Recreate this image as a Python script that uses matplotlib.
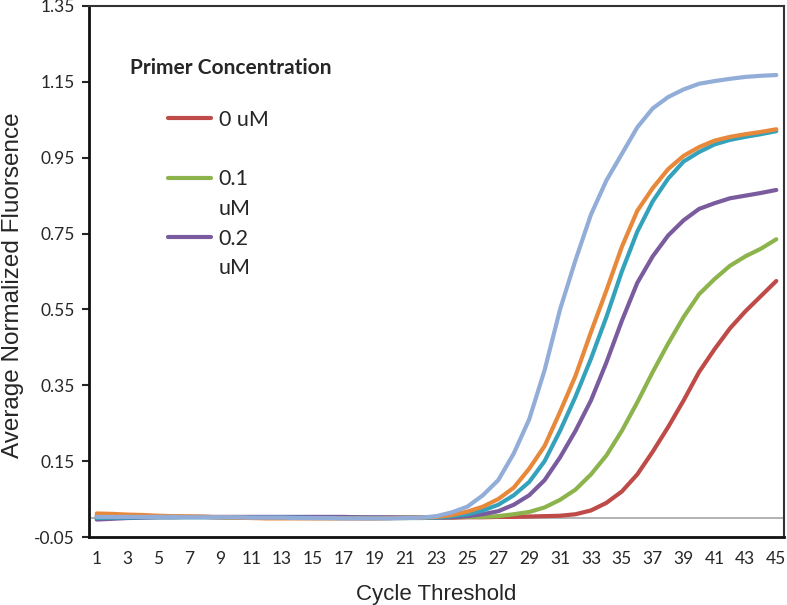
import matplotlib
matplotlib.use("Agg")
import matplotlib.pyplot as plt
from matplotlib.lines import Line2D

# ---- data ----
cycles = list(range(1, 46))

red = [0.006, 0.006, 0.005, 0.005, 0.004, 0.004, 0.003, 0.003, 0.002, 0.002,
       0.001, 0.001, 0.001, 0.001, 0.001, 0.001, 0.001, 0.000, 0.000, 0.000,
       0.001, 0.001, 0.001, 0.001, 0.002, 0.002, 0.003, 0.003, 0.004, 0.005,
       0.006, 0.010, 0.020, 0.040, 0.070, 0.115, 0.175, 0.240, 0.310, 0.385,
       0.445, 0.500, 0.545, 0.585, 0.625]
green = [0.004, 0.004, 0.004, 0.004, 0.004, 0.003, 0.003, 0.003, 0.002, 0.002,
         0.002, 0.002, 0.002, 0.002, 0.002, 0.002, 0.002, 0.002, 0.001, 0.001,
         0.001, 0.002, 0.002, 0.002, 0.003, 0.003, 0.005, 0.010, 0.016, 0.028,
         0.048, 0.075, 0.115, 0.165, 0.230, 0.305, 0.385, 0.460, 0.530, 0.590,
         0.630, 0.665, 0.690, 0.710, 0.735]
purple = [-0.004, -0.002, 0.000, 0.001, 0.002, 0.002, 0.003, 0.003, 0.003, 0.003,
          0.003, 0.003, 0.003, 0.003, 0.003, 0.003, 0.003, 0.002, 0.002, 0.002,
          0.001, 0.001, 0.001, 0.002, 0.005, 0.010, 0.018, 0.035, 0.060, 0.100,
          0.160, 0.230, 0.310, 0.410, 0.520, 0.620, 0.690, 0.745, 0.785, 0.815,
          0.830, 0.843, 0.850, 0.857, 0.865]
teal = [0.000, 0.001, 0.001, 0.002, 0.002, 0.002, 0.002, 0.002, 0.002, 0.001,
        0.001, 0.001, 0.001, 0.001, 0.000, 0.000, 0.000, 0.000, 0.000, 0.000,
        0.000, 0.000, 0.001, 0.005, 0.010, 0.020, 0.035, 0.060, 0.095, 0.150,
        0.230, 0.320, 0.420, 0.530, 0.650, 0.755, 0.835, 0.895, 0.940, 0.965,
        0.985, 0.997, 1.005, 1.012, 1.020]
orange = [0.012, 0.011, 0.009, 0.008, 0.006, 0.005, 0.004, 0.003, 0.002, 0.001,
          0.000, -0.001, -0.001, -0.001, -0.001, -0.001, -0.001, -0.001, -0.001, 0.000,
          0.000, 0.001, 0.003, 0.008, 0.017, 0.030, 0.050, 0.080, 0.130, 0.190,
          0.280, 0.375, 0.490, 0.600, 0.715, 0.810, 0.870, 0.920, 0.955, 0.978,
          0.995, 1.005, 1.012, 1.018, 1.025]
lightblue = [0.003, 0.003, 0.003, 0.003, 0.003, 0.003, 0.002, 0.002, 0.002, 0.002,
             0.001, 0.001, 0.001, 0.000, 0.000, 0.000, -0.001, -0.001, -0.001, -0.001,
             0.000, 0.001, 0.005, 0.015, 0.030, 0.060, 0.100, 0.170, 0.260, 0.390,
             0.550, 0.680, 0.800, 0.890, 0.960, 1.030, 1.080, 1.110, 1.130, 1.145,
             1.152, 1.158, 1.163, 1.166, 1.168]

series = [red, green, purple, teal, orange, lightblue]
colors = ["#BE4B48", "#8DB44C", "#7A5C9E", "#35A2BC", "#E8883A", "#91ADD8"]

yticks = [-0.05, 0.15, 0.35, 0.55, 0.75, 0.95, 1.15, 1.35]
xtick_labels = [c for c in cycles if c % 2 == 1]

txt = "#262626"

fig = plt.figure(figsize=(7.87, 6.05), dpi=100)
ax = fig.add_axes([89 / 787, 1 - 537 / 605, 695 / 787, 531 / 605])

ax.axhline(0, color="#A6A6A6", lw=1.2, zorder=1)

lines = []
for vals, col in zip(series, colors):
    ln, = ax.plot(cycles, vals, color=col, lw=3.0, solid_capstyle="round",
                  solid_joinstyle="round", zorder=2)
    lines.append(ln)

ax.set_xlim(0.5, 45.5)
ax.set_ylim(-0.05, 1.35)
ax.set_yticks(yticks)
ax.set_yticklabels(["%.2f" % v for v in yticks])
ax.set_xticks(xtick_labels)
ax.set_xticklabels([str(c) for c in xtick_labels])

ax.tick_params(axis="y", direction="out", length=5, width=1.5, pad=5,
               labelsize=12.5, colors=txt)
ax.tick_params(axis="x", length=0, pad=10, labelsize=12.5, colors=txt)
for lab in ax.get_xticklabels() + ax.get_yticklabels():
    lab.set_fontfamily("Lato")

for side in ["left", "bottom"]:
    ax.spines[side].set_linewidth(2.0)
    ax.spines[side].set_color("#111111")
for side in ["top", "right"]:
    ax.spines[side].set_linewidth(1.5)
    ax.spines[side].set_color("#333333")

ax.set_xlabel("Cycle Threshold", fontsize=16, family="Liberation Sans",
              color=txt, labelpad=12)
fig.text(2 / 787, 1 - 285 / 605, "Average Normalized Fluorsence",
         rotation=90, fontsize=17.5, family="Liberation Sans", color=txt,
         ha="left", va="center")

# legend: only the first three series, labels wrap like in the original
blank = Line2D([], [], color="none")
handles = [lines[0], blank, lines[1], blank, lines[2], blank]
labels = ["0 uM", "", "0.1", "uM", "0.2", "uM"]
leg = ax.legend(handles, labels, loc="upper left",
                bbox_to_anchor=(168 / 787, 1 - 110 / 605),
                bbox_transform=fig.transFigure, frameon=False,
                borderpad=0, borderaxespad=0, handlelength=2.0,
                handletextpad=0.35, labelspacing=0.45,
                prop={"family": "Lato", "size": 15.5})
for t in leg.get_texts():
    t.set_color(txt)
for h in leg.legend_handles:
    h.set_linewidth(3.0)

fig.text(130 / 787, 1 - 68 / 605, "Primer Concentration", fontsize=15,
         fontweight="bold", family="Lato", color=txt, va="center", ha="left")

fig.savefig("out.png", dpi=100)
